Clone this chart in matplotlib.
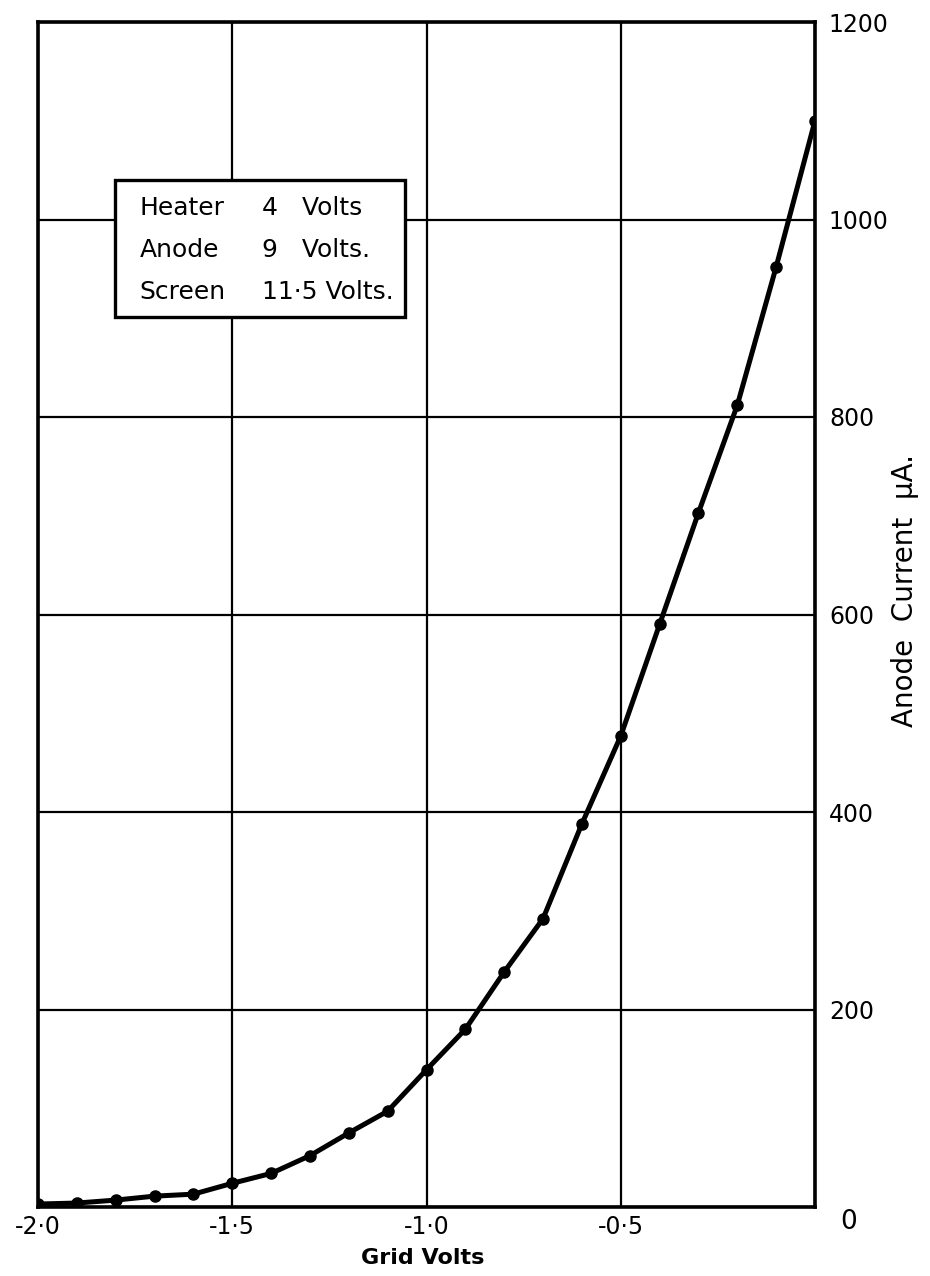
import matplotlib
matplotlib.use("Agg")
import matplotlib.pyplot as plt
from matplotlib.patches import Rectangle

# Data
grid_volts = [-2.0, -1.9, -1.8, -1.7, -1.6, -1.5, -1.4, -1.3, -1.2, -1.1, -1.0,
              -0.9, -0.8, -0.7, -0.6, -0.5, -0.4, -0.3, -0.2, -0.1, 0.0]
anode_current = [3, 4, 7, 11, 13, 24, 34, 52, 75, 97, 139,
                 180, 238, 292, 388, 477, 590, 703, 812, 952, 1100]

x_ticks = [-2.0, -1.5, -1.0, -0.5]
x_tick_labels = ["-2·0", "-1·5", "-1·0", "-0·5"]
y_ticks = [200, 400, 600, 800, 1000, 1200]
y_tick_labels = ["200", "400", "600", "800", "1000", "1200"]
box_names = ["Heater", "Anode", "Screen"]
box_values = ["4   Volts", "9   Volts.", "11·5 Volts."]

plt.rcParams['font.family'] = ['DejaVu Sans']
fig = plt.figure(figsize=(9.3, 12.76), dpi=100)
ax = fig.add_axes([38/930, 1-1207/1276, (815-38)/930, (1207-22)/1276])

ax.set_xlim(-2.0, 0.0)
ax.set_ylim(0, 1200)

ax.plot(grid_volts, anode_current, color='black', lw=3.6, zorder=3,
        marker='o', markersize=8, solid_capstyle='round', solid_joinstyle='round')

ax.set_xticks(x_ticks + [0.0])
ax.set_yticks(y_ticks + [0])
ax.grid(True, color='black', lw=1.6)
ax.set_axisbelow(True)
ax.set_xticklabels(x_tick_labels + [""], fontsize=17)
ax.yaxis.tick_right()
ax.set_yticklabels(y_tick_labels + [""], fontsize=17)
ax.tick_params(axis='both', length=0)
ax.tick_params(axis='x', pad=6)
ax.tick_params(axis='y', pad=10)
for sp in ax.spines.values():
    sp.set_linewidth(2.6)

ax.annotate("0", xy=(0, 0), xytext=(24, -11), textcoords='offset points',
            fontsize=19, ha='center', va='center')

ax.set_xlabel("Grid Volts", fontsize=16, fontweight='bold', labelpad=0)
ax.xaxis.set_label_coords(0.495, -0.035)
ax.yaxis.set_label_position('right')
ax.set_ylabel("Anode  Current  μA.", fontsize=20, rotation=90, labelpad=10)
ax.yaxis.set_label_coords(1.098, 0.52)

rect = Rectangle((0.099, 0.751), 0.373, 0.116, transform=ax.transAxes,
                 facecolor='white', edgecolor='black', lw=2.4, zorder=4)
ax.add_patch(rect)
rows_y = [0.843, 0.808, 0.772]
for yy, n, v in zip(rows_y, box_names, box_values):
    ax.text(0.131, yy, n, transform=ax.transAxes, fontsize=18, va='center', ha='left', zorder=5)
    ax.text(0.288, yy, v, transform=ax.transAxes, fontsize=18, va='center', ha='left', zorder=5)

fig.savefig("out.png", dpi=100)
